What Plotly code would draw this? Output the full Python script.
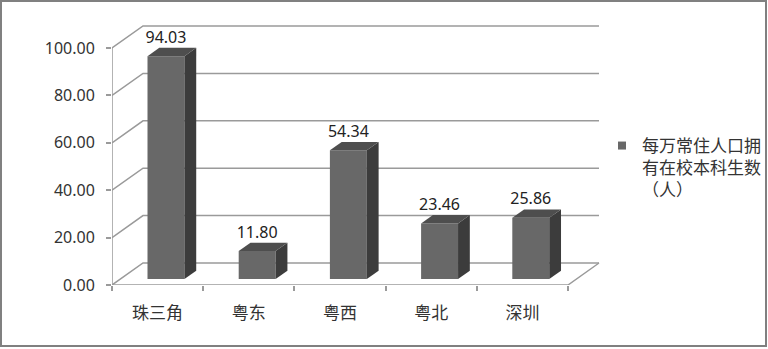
import plotly.graph_objects as go

# ---- data ----
categories = ["珠三角", "粤东", "粤西", "粤北", "深圳"]
values = [94.03, 11.80, 54.34, 23.46, 25.86]
y_ticks = [0, 20, 40, 60, 80, 100]
series_name = "每万常住人口拥<br>有在校本科生数<br>（人）"

# ---- style / geometry ----
W, H = 768, 349
ML, MR, MB, MT = 112, 164, 64, 20
PX_PER_CAT = 91.2
PX_PER_VAL = 2.37
plot_w = W - ML - MR
plot_h = H - MB - MT
x_lo = -0.5
x_hi = x_lo + plot_w / PX_PER_CAT
y_hi = plot_h / PX_PER_VAL
DX = 31 / PX_PER_CAT       # depth offset in category units
DY = 22 / PX_PER_VAL       # depth offset in value units
F1, F2 = 0.27, 0.65        # bar front/back depth fractions
BW = 0.405                 # bar width
GRID = "#9a9a9a"
FRONT, SIDE, TOP = "#686868", "#3c3c3c", "#4e4e4e"
FONT = "'Noto Sans', 'Noto Sans CJK SC', sans-serif"

n = len(categories)
xs = list(range(n))
x_first, x_last = -0.5, n - 0.5

fig = go.Figure()

# front faces (bars)
fig.add_trace(go.Bar(
    x=[x + F1 * DX for x in xs], y=values, base=[F1 * DY] * n, width=BW,
    marker=dict(color=FRONT, line=dict(width=0)), name=series_name,
    showlegend=False, hoverinfo="skip"))

# legend entry with small square symbol
fig.add_trace(go.Scatter(
    x=[None], y=[None], mode="markers", name=series_name,
    marker=dict(symbol="square", size=8, color=FRONT), showlegend=True))

# side and top faces
ddx, ddy = (F2 - F1) * DX, (F2 - F1) * DY
for x, v in zip(xs, values):
    xl = x + F1 * DX - BW / 2
    xr = x + F1 * DX + BW / 2
    b = F1 * DY
    fig.add_trace(go.Scatter(
        x=[xr, xr, xr + ddx, xr + ddx, xr], y=[b, b + v, b + v + ddy, b + ddy, b],
        fill="toself", fillcolor=SIDE, mode="lines", line=dict(width=0),
        showlegend=False, hoverinfo="skip"))
    fig.add_trace(go.Scatter(
        x=[xl, xr, xr + ddx, xl + ddx, xl], y=[b + v, b + v, b + v + ddy, b + v + ddy, b + v],
        fill="toself", fillcolor=TOP, mode="lines", line=dict(width=0),
        showlegend=False, hoverinfo="skip"))

# data labels
fig.add_trace(go.Scatter(
    x=[x + F1 * DX for x in xs], y=[v + F2 * DY + 0.5 for v in values],
    mode="text", text=[f"{v:.2f}" for v in values], textposition="top center",
    textfont=dict(size=16, color="#222222", family=FONT),
    showlegend=False, hoverinfo="skip"))

# walls / gridlines as shapes below traces
shapes = []
for t in y_ticks:
    shapes.append(dict(
        type="path", xref="x", yref="y", layer="below",
        path=f"M {x_first} {t} L {x_first + DX} {t + DY} L {x_last + DX} {t + DY}",
        line=dict(color=GRID, width=1.5)))
shapes.append(dict(
    type="path", xref="x", yref="y", layer="below",
    path=f"M {x_first} 0 L {x_last} 0 L {x_last + DX} {DY}",
    line=dict(color=GRID, width=1.5)))
shapes.append(dict(
    type="line", xref="x", yref="y", layer="below",
    x0=x_first, y0=0, x1=x_first, y1=max(y_ticks),
    line=dict(color=GRID, width=1.5)))
# outer border (figure edge, expressed in plot-area paper units)
shapes.append(dict(
    type="rect", xref="paper", yref="paper",
    x0=(1 - ML) / plot_w, x1=(W - 2 - ML) / plot_w,
    y0=-(MB - 3) / plot_h, y1=(H - MB - 1) / plot_h,
    line=dict(color="#808080", width=2)))

fig.update_layout(
    width=W, height=H,
    margin=dict(l=ML, r=MR, t=MT, b=MB, pad=0, autoexpand=False),
    paper_bgcolor="white", plot_bgcolor="white",
    font=dict(family=FONT, size=16, color="#333333"),
    shapes=shapes,
    showlegend=True,
    legend=dict(x=(602 - ML) / plot_w, y=(H - MB - 128) / plot_h,
                xanchor="left", yanchor="top", valign="top",
                font=dict(size=17, color="#333333", family=FONT),
                bgcolor="rgba(0,0,0,0)", itemwidth=30, tracegroupgap=0),
    xaxis=dict(range=[x_lo, x_hi], tickvals=xs, ticktext=categories,
               ticks="", showgrid=False, zeroline=False, showline=False,
               ticklabelstandoff=16, tickfont=dict(size=17),
               minor=dict(tickvals=[x - 0.5 for x in range(n + 1)], ticks="outside",
                          ticklen=5, tickcolor=GRID, tickwidth=1.5, showgrid=False),
               fixedrange=True),
    yaxis=dict(range=[0, y_hi], tickvals=y_ticks, tickformat=".2f",
               ticks="outside", ticklen=5, tickcolor=GRID, tickwidth=1.5,
               showgrid=False, zeroline=False, showline=False,
               ticklabelstandoff=8, fixedrange=True),
)

fig.write_html("out.html")
